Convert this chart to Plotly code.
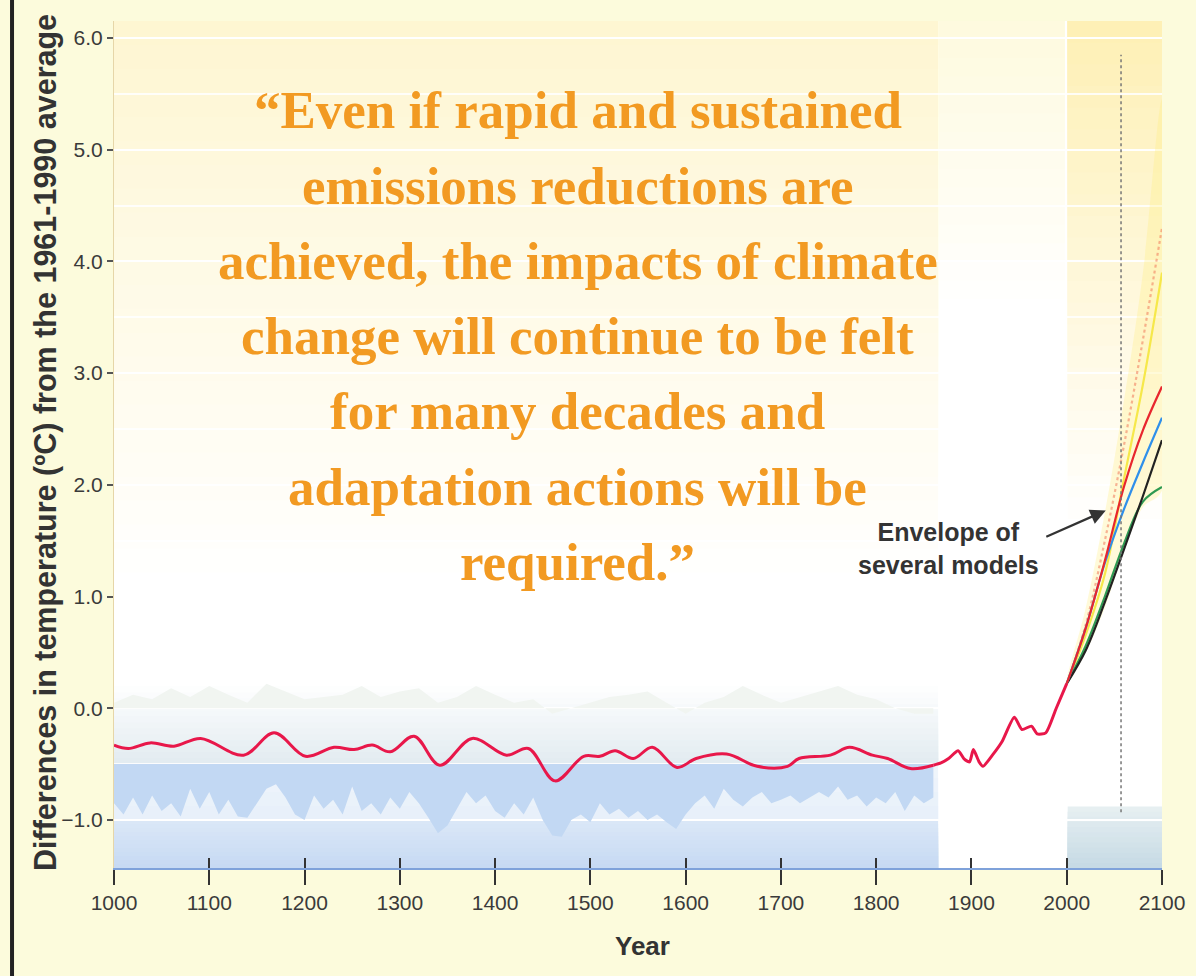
import plotly.graph_objects as go

# smoothed reconstruction (1000-1860) + instrumental record, degC vs 1961-1990
hist_years = [1000, 1015, 1038, 1063, 1091, 1136, 1168, 1201, 1231, 1252, 1271, 1290,
              1315, 1342, 1376, 1412, 1435, 1463, 1493, 1510, 1526, 1545, 1565, 1591,
              1611, 1643, 1675, 1707, 1719, 1752, 1772, 1796, 1812, 1836, 1860]
hist_temps = [-0.33, -0.36, -0.31, -0.34, -0.27, -0.42, -0.22, -0.43, -0.35, -0.37, -0.33, -0.39,
              -0.25, -0.51, -0.27, -0.42, -0.36, -0.65, -0.43, -0.43, -0.38, -0.45, -0.35, -0.53,
              -0.45, -0.41, -0.52, -0.52, -0.45, -0.42, -0.35, -0.42, -0.45, -0.54, -0.51]

inst_years = [1860, 1868, 1876, 1886, 1892, 1898, 1902, 1908, 1912, 1922, 1932, 1945,
              1953, 1963, 1969, 1978, 1989, 2000]
inst_temps = [-0.51, -0.49, -0.45, -0.38, -0.45, -0.48, -0.37, -0.48, -0.52, -0.42, -0.30, -0.08,
              -0.19, -0.16, -0.23, -0.22, 0.0, 0.22]

# proxy uncertainty range (lower edge every 10 yrs, upper edge every 20 yrs)
lower_years = list(range(1000, 1861, 10))
lower_temps = [-0.85, -0.95, -0.80, -0.95, -0.78, -0.92, -0.85, -0.97, -0.72, -0.90,
               -0.75, -0.95, -0.82, -0.97, -0.98, -0.85, -0.72, -0.68, -0.80, -0.95,
               -1.00, -0.78, -0.90, -0.82, -0.95, -0.70, -0.92, -0.85, -0.95, -0.80,
               -0.90, -0.75, -0.85, -0.98, -1.12, -1.05, -0.90, -0.75, -0.85, -0.78,
               -0.92, -0.98, -0.85, -0.95, -0.80, -1.00, -1.14, -1.15, -1.00, -0.95,
               -1.02, -0.85, -0.95, -0.90, -0.98, -0.92, -1.00, -0.95, -1.02, -1.08,
               -0.95, -0.85, -0.78, -0.90, -0.72, -0.82, -0.88, -0.80, -0.75, -0.85,
               -0.82, -0.78, -0.85, -0.80, -0.75, -0.80, -0.70, -0.82, -0.78, -0.88,
               -0.80, -0.85, -0.75, -0.92, -0.78, -0.85, -0.80]
upper_years = list(range(1000, 1861, 20))
upper_temps = [0.05, 0.12, 0.08, 0.18, 0.10, 0.20, 0.12, 0.05, 0.22, 0.15, 0.08,
               0.10, 0.12, 0.20, 0.10, 0.15, 0.18, 0.05, 0.10, 0.20, 0.12, 0.05,
               0.08, -0.05, 0.00, 0.05, 0.10, 0.12, 0.15, 0.05, -0.05, 0.05, 0.10,
               0.20, 0.12, 0.05, 0.10, 0.15, 0.20, 0.12, 0.08, 0.00, -0.05, -0.05]

# model projections to 2100
proj_years = [2000, 2020, 2040, 2060, 2080, 2100]
proj_red = [0.22, 0.72, 1.32, 1.98, 2.49, 2.88]
proj_blue = [0.22, 0.72, 1.30, 1.78, 2.20, 2.60]
proj_black = [0.22, 0.52, 0.95, 1.42, 1.90, 2.40]
proj_green = [0.22, 0.56, 1.00, 1.47, 1.85, 1.98]
proj_yellow = [0.22, 0.66, 1.20, 2.05, 2.90, 3.90]
proj_dashed = [0.22, 0.75, 1.50, 2.35, 3.30, 4.30]
env_upper = [0.22, 0.90, 1.75, 2.75, 3.90, 5.45]
env_lower = [0.22, 0.50, 0.90, 1.40, 1.80, 1.95]

quote_lines = [
    "\u201cEven if rapid and sustained",
    "emissions reductions are",
    "achieved, the impacts of climate",
    "change will continue to be felt",
    "for many decades and",
    "adaptation actions will be",
    "required.\u201d",
]

Y_MIN, Y_MAX = -1.43, 6.152
SANS = "Liberation Sans, Arial, sans-serif"
SERIF = "Liberation Serif, Times New Roman, serif"


def hex_rgb(h):
    h = h.lstrip("#")
    return [int(h[i:i + 2], 16) for i in (0, 2, 4)]


def band(x0, x1, y0, y1, c0, c1, steps=24):
    """Fake vertical gradient (c0 at y0 -> c1 at y1). Each rect runs to y1 so
    later ones paint over earlier ones and no seams show."""
    a, b = hex_rgb(c0), hex_rgb(c1)
    out = []
    for i in range(steps):
        t = i / max(steps - 1, 1)
        col = "rgb({},{},{})".format(*[round(a[k] + (b[k] - a[k]) * t) for k in range(3)])
        ya = y0 + (y1 - y0) * i / steps
        out.append(dict(type="rect", xref="x", yref="y", x0=x0, x1=x1, y0=ya, y1=y1,
                        fillcolor=col, line_width=0, layer="below"))
    return out


shapes = []
shapes += band(1000, 1865, 1.0, Y_MAX, "#FFFFFF", "#FEF6D2")
shapes += band(1000, 1865, 0.25, -0.5, "#FFFFFF", "#E3ECF1", 14)
shapes += band(1000, 1865, -0.5, -1.0, "#EFF5FB", "#E8F0FA", 4)
shapes += band(1000, 1865, -1.0, Y_MIN, "#DAE7F7", "#C7DAF3", 12)
shapes += band(1866, 1998, 3.5, Y_MAX, "#FFFFFF", "#FEFADF", 16)
shapes += band(2001, 2100, 1.5, Y_MAX, "#FFFFFF", "#FEF0B6")
shapes += band(2001, 2100, -0.88, Y_MIN, "#E6EFF1", "#C6DAE5", 12)

# dotted marker line and left page border
shapes.append(dict(type="line", xref="x", yref="y", x0=2057, x1=2057, y0=-0.93, y1=5.85,
                   line=dict(color="#777777", width=1.5, dash="dot")))
shapes.append(dict(type="line", xref="paper", yref="paper", x0=-0.0973, x1=-0.0973,
                   y0=-0.13, y1=1.03, line=dict(color="#222222", width=4)))

fig = go.Figure()

# upper faint uncertainty spikes
fig.add_trace(go.Scatter(x=upper_years, y=[0] * len(upper_years), mode="lines",
                         line=dict(width=0), hoverinfo="skip", showlegend=False))
fig.add_trace(go.Scatter(x=upper_years, y=upper_temps, mode="lines", fill="tonexty",
                         fillcolor="#F1F5F1", line=dict(width=0), showlegend=False))
# lower blue uncertainty spikes
fig.add_trace(go.Scatter(x=lower_years, y=[-0.5] * len(lower_years), mode="lines",
                         line=dict(width=0), hoverinfo="skip", showlegend=False))
fig.add_trace(go.Scatter(x=lower_years, y=lower_temps, mode="lines", fill="tonexty",
                         fillcolor="#C2D8F3", line=dict(width=0), showlegend=False))

# envelope of several models
fig.add_trace(go.Scatter(x=proj_years + proj_years[::-1], y=env_upper + env_lower[::-1],
                         mode="lines", fill="toself", fillcolor="rgba(255,238,120,0.28)",
                         line=dict(width=0, shape="spline"), showlegend=False))

proj = [
    (proj_dashed, "rgba(240,120,90,0.55)", "dot"),
    (proj_yellow, "#F6E84A", "solid"),
    (proj_green, "#2E9A52", "solid"),
    (proj_black, "#222222", "solid"),
    (proj_blue, "#2F8FEA", "solid"),
    (proj_red, "#E8262E", "solid"),
]
for ys, col, dash in proj:
    fig.add_trace(go.Scatter(x=proj_years, y=ys, mode="lines",
                             line=dict(color=col, width=2.2, dash=dash, shape="spline"),
                             showlegend=False))

fig.add_trace(go.Scatter(x=hist_years, y=hist_temps, mode="lines",
                         line=dict(color="#E8174A", width=3, shape="spline", smoothing=1.0),
                         showlegend=False))
fig.add_trace(go.Scatter(x=inst_years, y=inst_temps, mode="lines",
                         line=dict(color="#E8174A", width=3, shape="spline", smoothing=0.6),
                         showlegend=False))
# dummy trace so the overlay axis (inner tick stubs) gets drawn
fig.add_trace(go.Scatter(x=[1000], y=[0], xaxis="x2", mode="markers",
                         marker=dict(opacity=0), hoverinfo="skip", showlegend=False))

annotations = []
line_step = 0.674
for i, txt in enumerate(quote_lines):
    annotations.append(dict(
        text=txt, xref="paper", yref="y", x=0.4427, y=5.353 - i * line_step,
        xanchor="center", yanchor="middle", showarrow=False,
        font=dict(family=SERIF, size=53, color="#F29A22", weight="bold")))

annotations.append(dict(
    text="Envelope of<br>several models", xref="x", yref="y", x=1876, y=1.43,
    xanchor="center", yanchor="middle", showarrow=False,
    font=dict(family=SANS, size=25, color="#333333", weight="bold")))
annotations.append(dict(
    text="", xref="x", yref="y", x=2041, y=1.77, axref="x", ayref="y", ax=1977, ay=1.53,
    showarrow=True, arrowhead=2, arrowsize=1.4, arrowwidth=2.2, arrowcolor="#333333"))
annotations.append(dict(
    text="Differences in temperature (\u00baC) from the 1961-1990 average",
    xref="paper", yref="paper", x=-0.0649, y=0.503, textangle=-90,
    xanchor="center", yanchor="middle", showarrow=False,
    font=dict(family=SANS, size=30.5, color="#333333", weight="bold")))
annotations.append(dict(
    text="Year", xref="paper", yref="paper", x=0.504, y=-0.092,
    xanchor="center", yanchor="middle", showarrow=False,
    font=dict(family=SANS, size=26, color="#333333", weight="bold")))

tick_years = list(range(1000, 2101, 100))

fig.update_layout(
    width=1196, height=976,
    margin=dict(l=114, r=34, t=21, b=108),
    paper_bgcolor="#FCFBDC",
    plot_bgcolor="#FFFFFF",
    font=dict(family=SANS, color="#3A3A3A"),
    xaxis=dict(range=[1000, 2100], tickvals=tick_years, showgrid=False, zeroline=False,
               showline=True, linecolor="#7FA2DA", linewidth=2,
               ticks="outside", ticklen=15, tickwidth=2, tickcolor="#333333",
               tickfont=dict(size=21, color="#3A3A3A")),
    xaxis2=dict(range=[1000, 2100], overlaying="x", anchor="y", side="bottom",
                tickvals=tick_years, ticks="inside", ticklen=10, tickwidth=2,
                tickcolor="#333333", showticklabels=False, showgrid=False,
                zeroline=False, showline=False),
    yaxis=dict(range=[Y_MIN, Y_MAX], tickvals=[-1, 0, 1, 2, 3, 4, 5, 6], tickformat=".1f",
               showgrid=True, gridcolor="rgba(255,255,255,0.85)", gridwidth=2,
               minor=dict(dtick=0.5, showgrid=True, gridcolor="rgba(255,255,255,0.85)",
                          gridwidth=2),
               zeroline=False, showline=True, linecolor="#E6D6A8", linewidth=1,
               ticks="outside", ticklen=6, tickwidth=1.5, tickcolor="#555555",
               tickfont=dict(size=21, color="#3A3A3A")),
    shapes=shapes,
    annotations=annotations,
    showlegend=False,
)

# the default page has an 8px body margin; drop it so the figure sits at 0,0
fig.write_html("out.html",
               config={"displayModeBar": False},
               post_script="document.body.style.margin='0';"
                           "document.body.style.overflow='hidden';")
